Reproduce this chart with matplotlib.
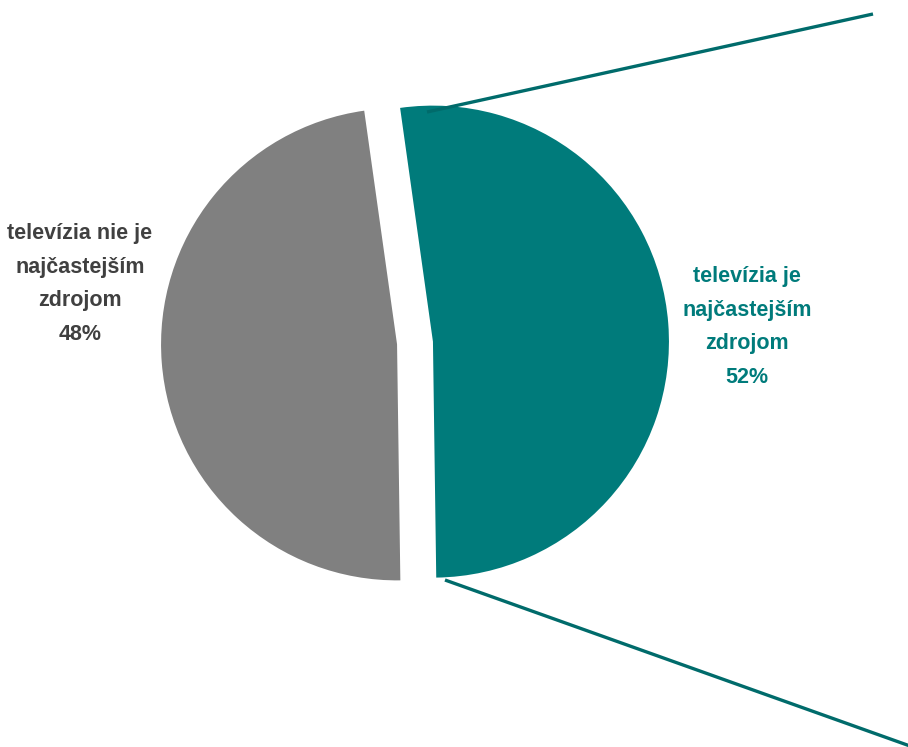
import matplotlib.pyplot as plt

# data
labels = ["televízia je\nnajčastejším\nzdrojom", "televízia nie je\nnajčastejším\nzdrojom"]
values = [52, 48]
colors = ["#007B7B", "#808080"]
text_colors = ["#007B7B", "#404040"]

# layout (pixel-like data coordinates, y up)
W, H = 908, 747
CENTER = (415, 404)
RADIUS = 236
EXPLODE = 18          # data units (pie does not scale explode by radius)
START = 98.0
LINE_COLOR = "#006B6B"

plt.rcParams["font.family"] = ["Liberation Sans Narrow", "Liberation Sans", "DejaVu Sans"]

fig = plt.figure(figsize=(W / 100, H / 100), dpi=100)
ax = fig.add_axes([0, 0, 1, 1])

ax.pie(values, colors=colors, startangle=START, counterclock=False,
       explode=[EXPLODE] * len(values), center=CENTER, radius=RADIUS,
       wedgeprops=dict(linewidth=0), frame=True)
ax.set_aspect("equal")
ax.axis("off")
ax.set_xlim(0, W)
ax.set_ylim(0, H)

# connector lines towards the (cut off) secondary chart
ax.plot([427, 873], [H - 112, H - 14], color=LINE_COLOR, lw=2.4, solid_capstyle="butt")
ax.plot([445, 910], [H - 580, H - 746], color=LINE_COLOR, lw=2.4, solid_capstyle="butt")

# labels
label_pos = [(747, H - 327), (80, H - 284)]
for lab, v, c, (x, y) in zip(labels, values, text_colors, label_pos):
    ax.text(x, y, f"{lab}\n{v}%", ha="center", va="center", color=c,
            fontsize=15.5, fontweight="bold", linespacing=1.78)

fig.savefig("out.png", dpi=100)
